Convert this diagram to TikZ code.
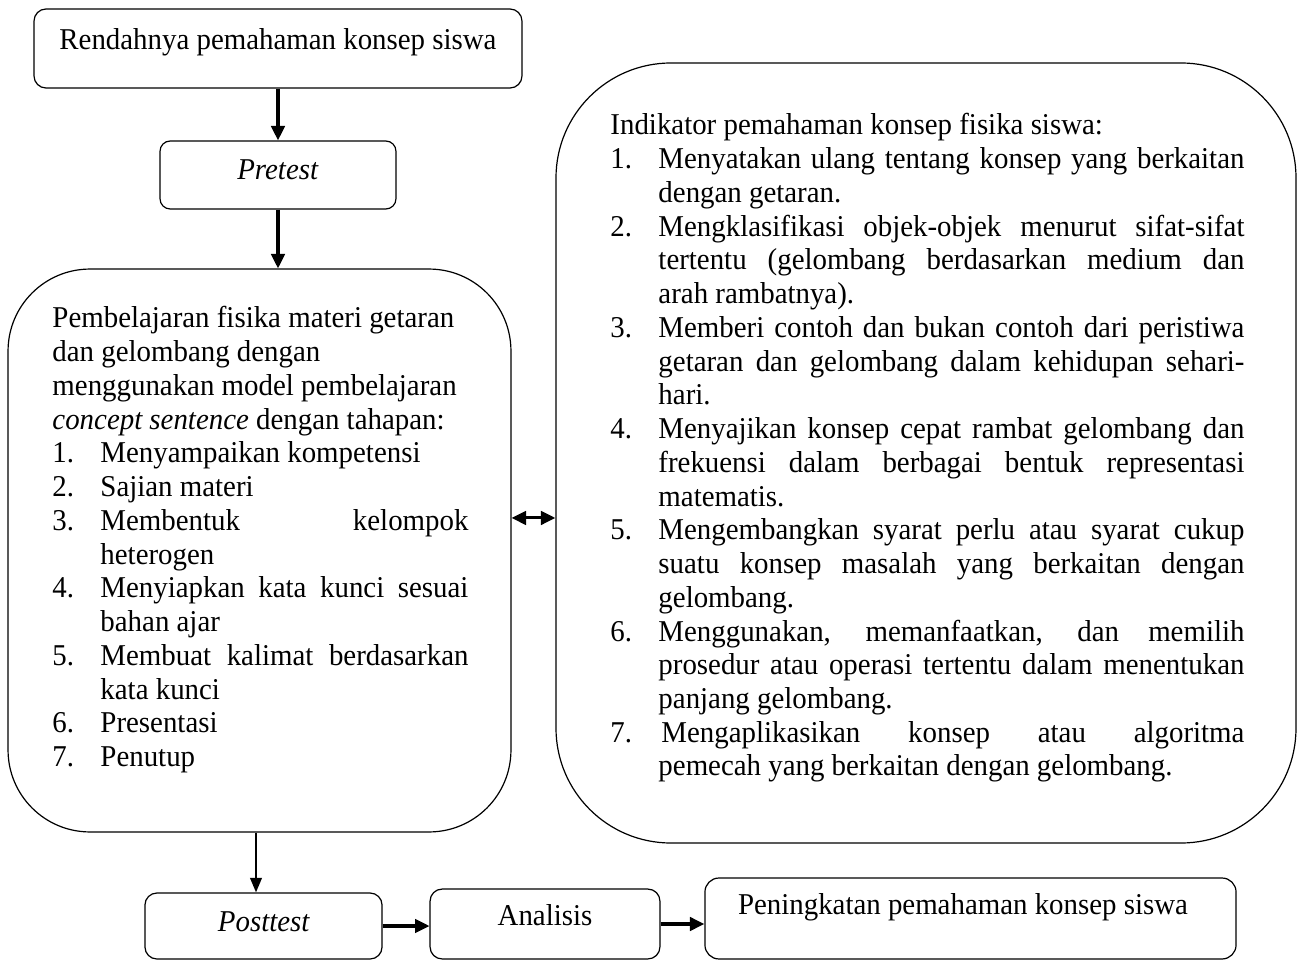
\documentclass[tikz,border=0pt]{standalone}
\usepackage{fontspec}
\setmainfont{Liberation Serif}[FakeStretch=0.955]
\usetikzlibrary{arrows.meta}
\newdimen\px \px=0.415pt
\newcommand{\itemJ}[2]{\makebox[48\px][l]{#1}\makebox[\dimexpr\linewidth-48\px\relax][s]{#2}\par}
\newcommand{\itemL}[2]{\makebox[48\px][l]{#1}#2\par}
\newcommand{\contJ}[1]{\hspace*{48\px}\makebox[\dimexpr\linewidth-48\px\relax][s]{#1}\par}
\newcommand{\contL}[1]{\hspace*{48\px}#1\par}
\tikzset{
  box/.style={draw, line width=0.5pt, inner sep=0pt, rounded corners=5pt},
  txt/.style={inner sep=0pt, anchor=base, font=\fontsize{12.55}{14}\selectfont},
  blocktxt/.style={inner sep=0pt, anchor=base west, font=\fontsize{12.55}{14}\selectfont},
  arr/.style={line width=1.25pt, -{Triangle[length=6pt,width=5.6pt]}},
  arrthin/.style={line width=0.85pt, -{Triangle[length=6pt,width=4.8pt]}},
  dbl/.style={line width=1.25pt, {Triangle[length=6pt,width=5.6pt]}-{Triangle[length=6pt,width=5.6pt]}}
}
\begin{document}
\begin{tikzpicture}[x=0.415pt, y=-0.415pt]
\useasboundingbox (0,0) rectangle (1301,962);
% boxes
\node[box, minimum width=202.5pt, minimum height=32.8pt] (b1) at (278,48.5) {};
\node[box, rounded corners=4.2pt, minimum width=97.9pt, minimum height=28.2pt] (pre) at (278,175) {};
\node[box, rounded corners=34pt, minimum width=208.7pt, minimum height=233.6pt] (left) at (259.5,550.5) {};
\node[box, rounded corners=47.7pt, minimum width=307.1pt, minimum height=323.7pt] (right) at (926,453) {};
\node[box, minimum width=98.4pt, minimum height=27.4pt] (post) at (263.5,926) {};
\node[box, minimum width=95.4pt, minimum height=29pt] (ana) at (545,924) {};
\node[box, rounded corners=5.8pt, minimum width=220.4pt, minimum height=33.6pt] (pen) at (970.5,918.5) {};
% texts
\node[txt] (t1) at (278,50) {Rendahnya pemahaman konsep siswa};
\node[txt] (tpre) at (278,180) {\textit{Pretest}};
\node[txt] (tpost) at (264,931) {\textit{Posttest}};
\node[txt] (tana) at (545,925) {Analisis};
\node[txt] (tpen) at (963,914) {Peningkatan pemahaman konsep siswa};
\node[blocktxt] (tleft) at (52,328) {\parbox[t]{416\px}{%
Pembelajaran fisika materi getaran\par
dan gelombang dengan\par
menggunakan model pembelajaran\par
\textit{concept sentence} dengan tahapan:\par
\itemL{1.}{Menyampaikan kompetensi}
\itemL{2.}{Sajian materi}
\itemJ{3.}{Membentuk kelompok}
\contL{heterogen}
\itemJ{4.}{Menyiapkan kata kunci sesuai}
\contL{bahan ajar}
\itemJ{5.}{Membuat kalimat berdasarkan}
\contL{kata kunci}
\itemL{6.}{Presentasi}
\itemL{7.}{Penutup}}};
\node[blocktxt] (tright) at (610,135) {\parbox[t]{634\px}{%
Indikator pemahaman konsep fisika siswa:\par
\itemJ{1.}{Menyatakan ulang tentang konsep yang berkaitan}
\contL{dengan getaran.}
\itemJ{2.}{Mengklasifikasi objek-objek menurut sifat-sifat}
\contJ{tertentu (gelombang berdasarkan medium dan}
\contL{arah rambatnya).}
\itemJ{3.}{Memberi contoh dan bukan contoh dari peristiwa}
\contJ{getaran dan gelombang dalam kehidupan sehari-}
\contL{hari.}
\itemJ{4.}{Menyajikan konsep cepat rambat gelombang dan}
\contJ{frekuensi dalam berbagai bentuk representasi}
\contL{matematis.}
\itemJ{5.}{Mengembangkan syarat perlu atau syarat cukup}
\contJ{suatu konsep masalah yang berkaitan dengan}
\contL{gelombang.}
\itemJ{6.}{Menggunakan, memanfaatkan, dan memilih}
\contJ{prosedur atau operasi tertentu dalam menentukan}
\contL{panjang gelombang.}
\itemJ{7.}{\hspace{3\px}Mengaplikasikan konsep atau algoritma}
\contL{pemecah yang berkaitan dengan gelombang.}}};
% connectors
\draw[arr] (b1.south) -- (pre.north);
\draw[arr] (pre.south) -- (pre.south |- left.north);
\draw[arrthin] ([xshift=-1.45pt]left.south) -- ([xshift=-1.45pt]left.south |- post.north);
\draw[arr] (post.east) -- (ana.west |- post.east);
\draw[arr] (ana.east) -- (pen.west |- ana.east);
\coordinate (d) at ([yshift=13.5pt]left.east);
\draw[dbl] (d) -- (d -| right.west);
\end{tikzpicture}
\end{document}
